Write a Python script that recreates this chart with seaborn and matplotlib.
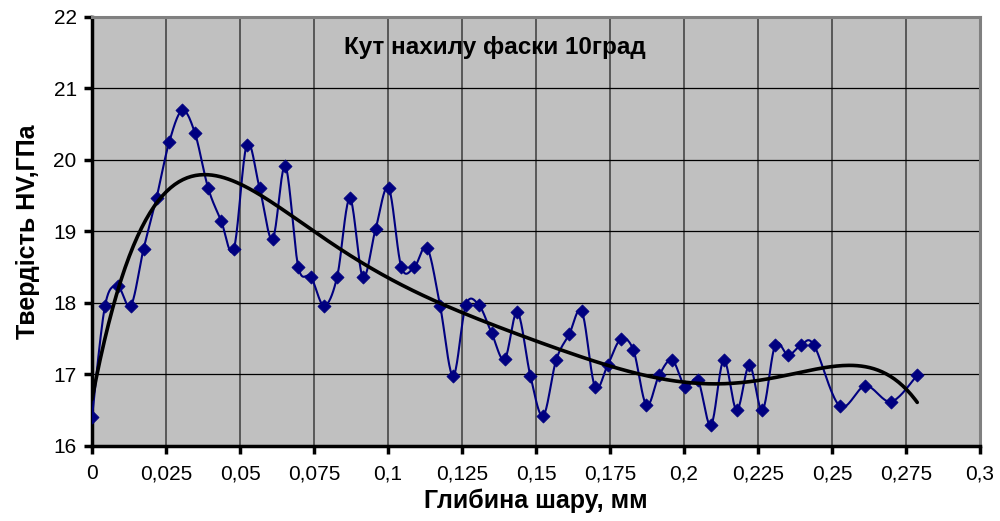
import numpy as np
import pandas as pd
import matplotlib
matplotlib.use("Agg")
import matplotlib.pyplot as plt
import seaborn as sns
from matplotlib.ticker import MultipleLocator, FuncFormatter

# depth, mm
depth = [0, 0.0044, 0.0087, 0.0131, 0.0174, 0.0218, 0.0261, 0.0305, 0.0348, 0.0392,
         0.0436, 0.0479, 0.0523, 0.0566, 0.0610, 0.0653, 0.0697, 0.0740, 0.0784, 0.0828,
         0.0871, 0.0915, 0.0958, 0.1002, 0.1045, 0.1089, 0.1132, 0.1176, 0.1220, 0.1263,
         0.1307, 0.1350, 0.1394, 0.1437, 0.1481, 0.1524, 0.1568, 0.1612, 0.1655, 0.1699,
         0.1742, 0.1786, 0.1829, 0.1873, 0.1916, 0.1960, 0.2004, 0.2047, 0.2091, 0.2134,
         0.2178, 0.2221, 0.2265, 0.2308, 0.2352, 0.2396, 0.2439, 0.2526, 0.2613, 0.2700,
         0.2788]
# hardness HV, GPa
hardness = [16.40, 17.96, 18.23, 17.96, 18.75, 19.47, 20.25, 20.69, 20.37, 19.61,
            19.15, 18.75, 20.21, 19.61, 18.89, 19.91, 18.50, 18.36, 17.96, 18.36,
            19.46, 18.36, 19.03, 19.61, 18.50, 18.50, 18.77, 17.96, 16.98, 17.97,
            17.97, 17.58, 17.21, 17.87, 16.98, 16.42, 17.20, 17.56, 17.88, 16.83,
            17.13, 17.49, 17.34, 16.57, 16.99, 17.20, 16.83, 16.92, 16.29, 17.20,
            16.50, 17.13, 16.50, 17.41, 17.27, 17.41, 17.41, 16.56, 16.84, 16.62,
            16.99]

title = "Кут нахилу фаски 10град"
xlabel = "Глибина шару, мм"
ylabel = "Твердість HV,ГПа"

x = np.array(depth)
y = np.array(hardness)

# smoothed connecting line (Bezier through the points, like Excel's smoothed line)
def catmull_rom(px, py, n=20):
    P = np.column_stack([px, py])
    P = np.vstack([P[0], P, P[-1]])
    out = []
    for i in range(1, len(P) - 2):
        p0, p1, p2, p3 = P[i - 1], P[i], P[i + 1], P[i + 2]
        t = np.linspace(0, 1, n, endpoint=False)[:, None]
        c1 = p1 + (p2 - p0) / 6
        c2 = p2 - (p3 - p1) / 6
        seg = ((1 - t) ** 3) * p1 + 3 * ((1 - t) ** 2) * t * c1 + 3 * (1 - t) * t ** 2 * c2 + t ** 3 * p2
        out.append(seg)
    out.append(P[-2][None, :])
    out = np.vstack(out)
    return out[:, 0], out[:, 1]

sx, sy = catmull_rom(x, y)

# polynomial trend line (order 6)
coef = np.polyfit(x, y, 6)
tx = np.linspace(x.min(), x.max(), 400)
ty = np.polyval(coef, tx)

sns.set_theme(style="white")
plt.rcParams['font.family'] = ['Liberation Sans', 'DejaVu Sans']
plt.rcParams['text.color'] = 'black'
plt.rcParams['axes.labelcolor'] = 'black'
plt.rcParams['xtick.color'] = 'black'
plt.rcParams['ytick.color'] = 'black'

fig = plt.figure(figsize=(10, 5.21), dpi=100)
ax = fig.add_axes([0.092, 0.144, 0.888, 0.824])
ax.set_facecolor("#C0C0C0")

ax.set_xlim(0, 0.3)
ax.set_ylim(16, 22)
ax.xaxis.set_major_locator(MultipleLocator(0.025))
ax.yaxis.set_major_locator(MultipleLocator(1))

def fmt(v, pos):
    s = ("%.3f" % v).rstrip("0").rstrip(".")
    return s.replace(".", ",")
ax.xaxis.set_major_formatter(FuncFormatter(fmt))
ax.yaxis.set_major_formatter(FuncFormatter(lambda v, p: "%d" % v))

for xv in np.arange(0.025, 0.3, 0.025):
    ax.axvline(xv, color="#505050", lw=1.3, zorder=1)
for yv in range(17, 22):
    ax.axhline(yv, color="#000000", lw=0.9, zorder=1)

sns.lineplot(x=sx, y=sy, sort=False, estimator=None, color="#000080", lw=1.5, ax=ax, zorder=3)
sns.scatterplot(x=x, y=y, marker="D", s=45, color="#000080", edgecolor="#000080", linewidth=0.5, ax=ax, zorder=4)
sns.lineplot(x=tx, y=ty, sort=False, estimator=None, color="black", lw=2.6, ax=ax, zorder=5)

for side in ["left", "bottom"]:
    ax.spines[side].set_color("black")
    ax.spines[side].set_linewidth(2.5)
for side in ["top", "right"]:
    ax.spines[side].set_color("#808080")
    ax.spines[side].set_linewidth(2.2)

ax.tick_params(axis="both", which="major", direction="out", length=6, width=2.5,
               color="black", labelcolor="black", labelsize=15, pad=5, bottom=True, left=True)
ax.tick_params(axis="x", pad=7)

ax.set_xlabel(xlabel, fontsize=18, fontweight="bold", labelpad=4, color="black")
ax.set_ylabel(ylabel, fontsize=18, fontweight="bold", labelpad=10, color="black")
ax.text(0.495, 0.908, title, transform=fig.transFigure, ha="center", va="center",
        fontsize=17.5, fontweight="bold", color="black")

fig.savefig("out.png", dpi=100)
